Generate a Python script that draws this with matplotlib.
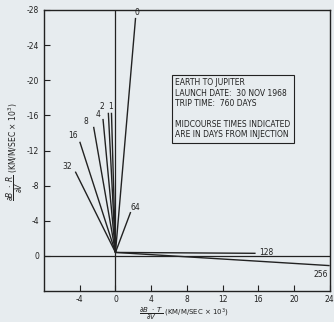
import matplotlib.pyplot as plt

# midcourse times (days from injection) and end points of the sensitivity vectors
days = ['0', '1', '2', '4', '8', '16', '32', '64', '128', '256']
bt_end = [2.25, -0.45, -0.8, -1.4, -2.45, -4.0, -4.5, 1.7, 15.7, 24.0]
br_end = [-27.1, -16.3, -16.3, -15.6, -14.7, -13.0, -9.6, -5.0, -0.3, 1.1]
origin = (0.0, -0.4)

xticks = [-4, 0, 4, 8, 12, 16, 20, 24]
yticks = [-28, -24, -20, -16, -12, -8, -4, 0]

bg = '#e7ecef'
ink = '#222222'
plt.rcParams['font.family'] = ['DejaVu Sans']
plt.rcParams['axes.unicode_minus'] = False

fig = plt.figure(figsize=(3.34, 3.22), dpi=100, facecolor=bg)
ax = fig.add_axes([0.132, 0.096, 0.855, 0.873], facecolor=bg)

ax.set_xlim(-8, 24)
ax.set_ylim(4, -28)

ax.axhline(0, color=ink, lw=0.9)
ax.axvline(0, color=ink, lw=0.9)

for d, x, y in zip(days, bt_end, br_end):
    ax.plot([origin[0], x], [origin[1], y], color=ink, lw=1.0, solid_capstyle='butt')

# labels at the vector tips
lab_off = {'0': (0.1, -0.6), '1': (-0.1, -0.7), '2': (-0.7, -0.7), '4': (-0.6, -0.5),
           '8': (-0.9, -0.6), '16': (-0.8, -0.7), '32': (-0.9, -0.6), '64': (0.5, -0.5),
           '128': (1.2, -0.1), '256': (-1.0, 1.0)}
for d, x, y in zip(days, bt_end, br_end):
    dx, dy = lab_off[d]
    ax.text(x + dx, y + dy, d, fontsize=5.5, color=ink, ha='center', va='center')

ax.set_xticks(xticks)
ax.set_yticks(yticks)
ax.tick_params(direction='in', length=4, width=0.8, labelsize=5.5, colors=ink,
               top=False, right=False)
ax.tick_params(axis='x', pad=2.5)
for s in ax.spines.values():
    s.set_color(ink)
    s.set_linewidth(1.0)

info = ('EARTH TO JUPITER\nLAUNCH DATE:  30 NOV 1968\nTRIP TIME:  760 DAYS\n\n'
        'MIDCOURSE TIMES INDICATED\nARE IN DAYS FROM INJECTION')
ax.text(0.46, 0.757, info, transform=ax.transAxes, fontsize=5.5, color=ink,
        ha='left', va='top', linespacing=1.2,
        bbox=dict(boxstyle='square,pad=0.45', fc=bg, ec=ink, lw=0.8))

fig.text(0.55, 0.024, r'$\dfrac{\partial B\ \cdot\ T}{\partial V}$ (KM/M/SEC $\times$ $10^3$)',
         fontsize=5, color=ink, ha='center', va='center')
fig.text(0.045, 0.53, r'$\dfrac{\partial B\ \cdot\ R}{\partial V}$ (KM/M/SEC $\times$ $10^3$)',
         fontsize=5.5, color=ink, ha='center', va='center', rotation=90)

fig.savefig('out.png', dpi=100, facecolor=bg)
